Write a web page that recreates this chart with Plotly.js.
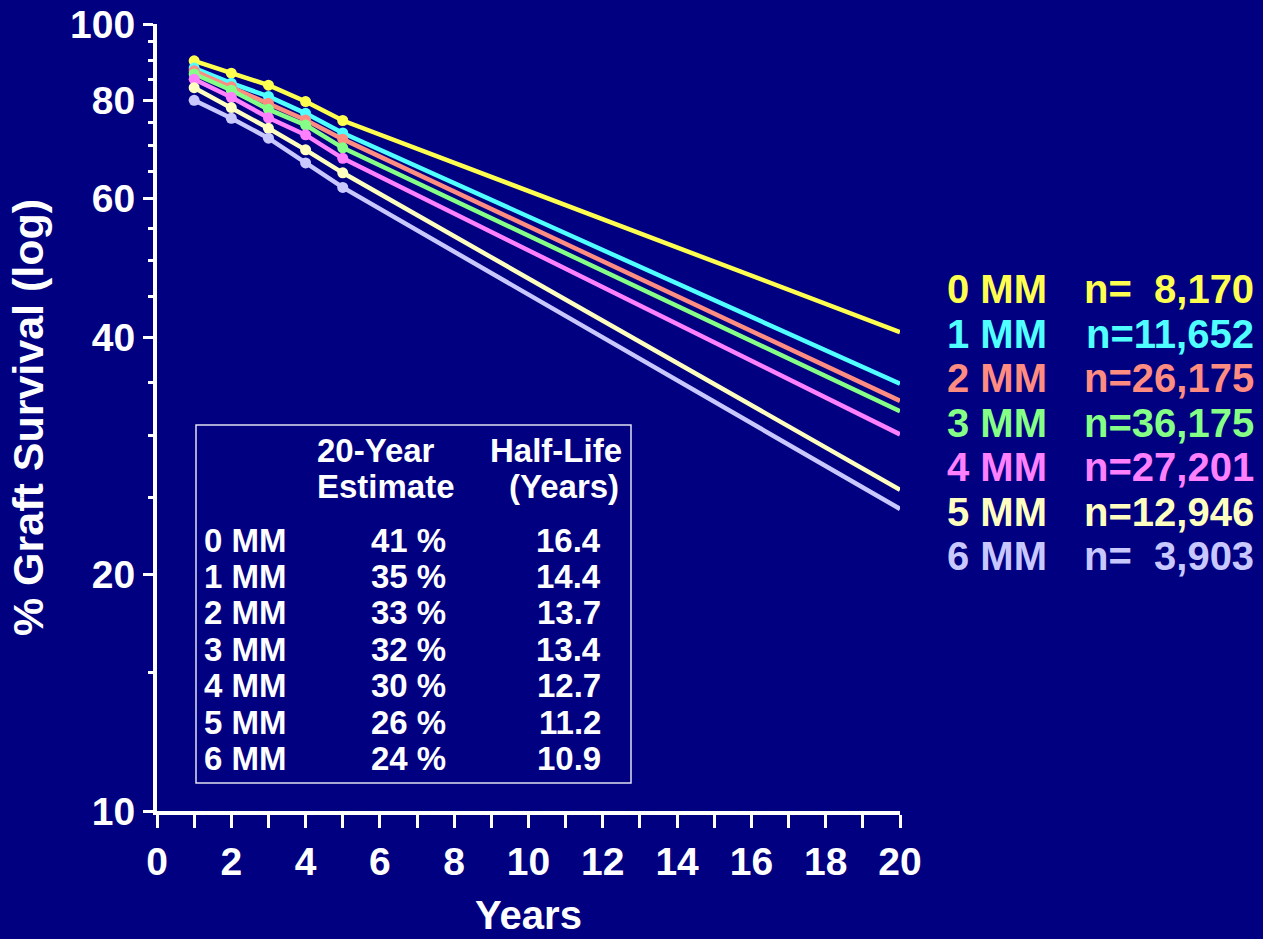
<!DOCTYPE html>
<html>
<head>
<meta charset="utf-8">
<script src="https://cdn.plot.ly/plotly-3.0.1.min.js"></script>
<style>
  html, body { margin: 0; padding: 0; background: #000080; }
  #chart { width: 1263px; height: 939px; }
</style>
</head>
<body>
<div id="chart"></div>
<script>
// ---- data ----
const years = [1, 2, 3, 4, 5, 20];
const groupLabels = ['0 MM', '1 MM', '2 MM', '3 MM', '4 MM', '5 MM', '6 MM'];
const nLabels = ['n=\u00a0\u00a08,170', 'n=11,652', 'n=26,175', 'n=36,175', 'n=27,201', 'n=12,946', 'n=\u00a0\u00a03,903'];
const survival0MM = [89.8, 86.6, 83.6, 79.7, 75.4, 40.6];
const survival1MM = [87.9, 84.1, 80.9, 77.0, 72.7, 34.9];
const survival2MM = [87.2, 83.2, 79.3, 75.5, 71.4, 33.2];
const survival3MM = [86.4, 82.4, 77.9, 74.4, 69.6, 32.2];
const survival4MM = [85.1, 80.7, 76.0, 72.3, 67.5, 30.1];
const survival5MM = [83.0, 78.3, 73.7, 69.2, 64.7, 25.6];
const survival6MM = [80.0, 75.9, 71.6, 66.6, 62.0, 24.2];
const estimate20yr = ['41 %', '35 %', '33 %', '32 %', '30 %', '26 %', '24 %'];
const halfLife = ['16.4', '14.4', '13.7', '13.4', '12.7', '11.2', '10.9'];
const yMajorTicks = [10, 20, 40, 60, 80, 100];
const yMinorTicks = [15, 25, 30, 35, 45, 50, 55, 65, 70, 75, 85, 90, 95];

const seriesValues = [survival0MM, survival1MM, survival2MM, survival3MM, survival4MM, survival5MM, survival6MM];
const colors = ['#FFFF50', '#50FFFF', '#FF8C80', '#86FF86', '#FF80FF', '#FFFFC0', '#C8C8FF'];

// plot area in pixels
const W = 1263, H = 939;
const L = 157, R = 900, T = 24, B = 811;
const px = x => (x - L) / (R - L);
const py = y => (B - y) / (B - T);

const FONT = 'Liberation Sans, Arial, Helvetica, sans-serif';

const traces = seriesValues.map((vals, i) => ({
  x: years,
  y: vals,
  type: 'scatter',
  mode: 'lines+markers',
  name: groupLabels[i],
  line: { color: colors[i], width: 4.5 },
  marker: { color: colors[i], size: years.map(v => v <= 5 ? 11 : 0), symbol: 'circle', opacity: 1, line: { width: 0 } },
  hoverinfo: 'x+y+name'
}));

const annotations = [];
// right-hand legend
groupLabels.forEach((g, i) => {
  const yc = 289 + i * 44.5;
  annotations.push({
    xref: 'paper', yref: 'paper', x: px(945), y: py(yc), xanchor: 'left', yanchor: 'middle',
    text: '<b>' + g + '</b>', showarrow: false,
    font: { family: FONT, size: 40, color: colors[i] }
  });
  annotations.push({
    xref: 'paper', yref: 'paper', x: px(1256), y: py(yc), xanchor: 'right', yanchor: 'middle',
    text: '<b>' + nLabels[i] + '</b>', showarrow: false,
    font: { family: FONT, size: 40, color: colors[i] }
  });
});
// inset table
const tf = { family: FONT, size: 33, color: '#FFFFFF' };
annotations.push({ xref: 'paper', yref: 'paper', x: px(315), y: py(450), xanchor: 'left', yanchor: 'middle', text: '<b>20-Year</b>', showarrow: false, font: tf });
annotations.push({ xref: 'paper', yref: 'paper', x: px(315), y: py(486), xanchor: 'left', yanchor: 'middle', text: '<b>Estimate</b>', showarrow: false, font: tf });
annotations.push({ xref: 'paper', yref: 'paper', x: px(624), y: py(450), xanchor: 'right', yanchor: 'middle', text: '<b>Half-Life</b>', showarrow: false, font: tf });
annotations.push({ xref: 'paper', yref: 'paper', x: px(621), y: py(486), xanchor: 'right', yanchor: 'middle', text: '<b>(Years)</b>', showarrow: false, font: tf });
groupLabels.forEach((g, i) => {
  const yc = 540 + i * 36.45;
  annotations.push({ xref: 'paper', yref: 'paper', x: px(202), y: py(yc), xanchor: 'left', yanchor: 'middle', text: '<b>' + g + '</b>', showarrow: false, font: tf });
  annotations.push({ xref: 'paper', yref: 'paper', x: px(448), y: py(yc), xanchor: 'right', yanchor: 'middle', text: '<b>' + estimate20yr[i] + '</b>', showarrow: false, font: tf });
  annotations.push({ xref: 'paper', yref: 'paper', x: px(603), y: py(yc), xanchor: 'right', yanchor: 'middle', text: '<b>' + halfLife[i] + '</b>', showarrow: false, font: tf });
});

const layout = {
  width: W, height: H,
  paper_bgcolor: '#000080', plot_bgcolor: '#000080',
  margin: { l: L, r: W - R, t: T, b: H - B, pad: 0 },
  showlegend: false,
  font: { family: FONT, color: '#FFFFFF' },
  xaxis: {
    range: [0, 20], tickmode: 'linear', tick0: 0, dtick: 2,
    ticks: 'outside', ticklen: 13, tickwidth: 3, tickcolor: '#FFFFFF',
    minor: { tickmode: 'linear', tick0: 0, dtick: 1, ticks: 'outside', ticklen: 13, tickwidth: 3, tickcolor: '#FFFFFF', showgrid: false },
    showline: true, linecolor: '#FFFFFF', linewidth: 4,
    showgrid: false, zeroline: false,
    tickfont: { family: FONT, size: 39, color: '#FFFFFF', weight: 'bold' },
    title: { text: 'Years', font: { family: FONT, size: 40, color: '#FFFFFF', weight: 'bold' }, standoff: 20 }
  },
  yaxis: {
    type: 'log', range: [1, 2],
    tickmode: 'array', tickvals: yMajorTicks, ticktext: yMajorTicks.map(String),
    ticks: 'outside', ticklen: 10, tickwidth: 3, tickcolor: '#FFFFFF',
    minor: { tickmode: 'array', tickvals: yMinorTicks, ticks: 'outside', ticklen: 5, tickwidth: 3, tickcolor: '#FFFFFF', showgrid: false },
    showline: true, linecolor: '#FFFFFF', linewidth: 4,
    showgrid: false, zeroline: false,
    tickfont: { family: FONT, size: 39, color: '#FFFFFF', weight: 'bold' },
    title: { text: '% Graft Survival (log)', font: { family: FONT, size: 43, color: '#FFFFFF', weight: 'bold' }, standoff: 14 }
  },
  shapes: [{
    type: 'rect', xref: 'paper', yref: 'paper',
    x0: px(196), x1: px(631), y0: py(783), y1: py(425),
    line: { color: '#E0E0F0', width: 1.5 }, fillcolor: 'rgba(0,0,0,0)', layer: 'above'
  }],
  annotations: annotations
};

Plotly.newPlot('chart', traces, layout, { displayModeBar: false, staticPlot: true });
</script>
</body>
</html>
